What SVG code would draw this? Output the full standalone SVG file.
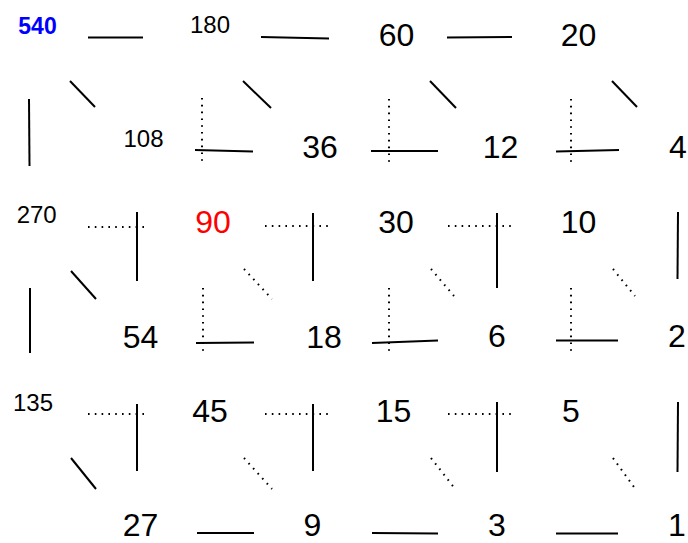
<svg xmlns="http://www.w3.org/2000/svg" width="688" height="543" viewBox="0 0 688 543">
<style>
text{font-family:"Liberation Sans",Arial,sans-serif;fill:#000;text-anchor:middle}
.s{font-size:24px}
.l{font-size:32px}
.c line{stroke:#000;stroke-width:2;fill:none}
.c line.d{stroke-width:2;stroke-dasharray:1.6 5.2}
</style>
<rect width="688" height="543" fill="#fff"/>
<g id="connectors" class="c">
<line x1="88" y1="37.5" x2="143" y2="37.5"/>
<line x1="261" y1="37" x2="329" y2="38.5"/>
<line x1="447" y1="37.5" x2="512" y2="37"/>
<line x1="70" y1="81" x2="95" y2="107"/>
<line x1="243" y1="81" x2="271" y2="108"/>
<line x1="430" y1="81" x2="456" y2="108"/>
<line x1="612" y1="81" x2="637" y2="107"/>
<line x1="29" y1="99" x2="29.5" y2="166"/>
<line class="d" x1="202" y1="98" x2="202" y2="166"/>
<line class="d" x1="389" y1="99" x2="389" y2="165"/>
<line class="d" x1="571" y1="99" x2="571" y2="165"/>
<line x1="195" y1="150" x2="253" y2="151.5"/>
<line x1="371" y1="151" x2="438" y2="151"/>
<line x1="556" y1="151.5" x2="619" y2="150"/>
<line class="d" x1="88" y1="227" x2="145" y2="227"/>
<line class="d" x1="265" y1="226" x2="332" y2="226"/>
<line class="d" x1="448" y1="226" x2="514" y2="226"/>
<line x1="137" y1="212" x2="137" y2="281"/>
<line x1="313" y1="213" x2="313" y2="281"/>
<line x1="497" y1="213" x2="497" y2="288"/>
<line x1="678" y1="212" x2="677.5" y2="279"/>
<line x1="71" y1="271" x2="96" y2="299"/>
<line class="d" x1="244" y1="269" x2="272" y2="299"/>
<line class="d" x1="431" y1="269" x2="454" y2="296"/>
<line class="d" x1="613" y1="269" x2="635" y2="296"/>
<line x1="30" y1="288" x2="30" y2="353"/>
<line class="d" x1="203" y1="288" x2="203" y2="355"/>
<line class="d" x1="389" y1="288" x2="389" y2="354"/>
<line class="d" x1="571" y1="288" x2="571" y2="354"/>
<line x1="196" y1="343" x2="254" y2="342.5"/>
<line x1="372" y1="343" x2="438" y2="340.5"/>
<line x1="556" y1="340.5" x2="618" y2="340.5"/>
<line class="d" x1="88" y1="414" x2="145" y2="414"/>
<line class="d" x1="265" y1="414" x2="332" y2="414"/>
<line class="d" x1="448" y1="414" x2="514" y2="414"/>
<line x1="137" y1="404" x2="137" y2="471"/>
<line x1="313" y1="404" x2="313" y2="471"/>
<line x1="497" y1="402" x2="497" y2="472"/>
<line x1="678" y1="402" x2="677.5" y2="472"/>
<line x1="71" y1="458" x2="96" y2="489"/>
<line class="d" x1="244" y1="458" x2="272" y2="489"/>
<line class="d" x1="431" y1="458" x2="456" y2="490"/>
<line class="d" x1="613" y1="458" x2="634" y2="487"/>
<line x1="197" y1="533" x2="254" y2="533"/>
<line x1="372" y1="533" x2="438" y2="533.5"/>
<line x1="556" y1="533.5" x2="618" y2="533.5"/>
</g>
<g id="n540"><text x="37.5" y="34" style="font-size:23px;font-weight:bold;fill:#0000ff">540</text></g>
<g id="n180"><text class="s" x="210" y="33">180</text></g>
<g id="n60"><text class="l" x="396.5" y="46">60</text></g>
<g id="n20"><text class="l" x="578.5" y="46">20</text></g>
<g id="n108"><text class="s" x="143.5" y="147">108</text></g>
<g id="n36"><text class="l" x="320" y="158">36</text></g>
<g id="n12"><text class="l" x="500.5" y="158">12</text></g>
<g id="n4"><text class="l" x="678" y="158">4</text></g>
<g id="n270"><text class="s" x="36.7" y="223">270</text></g>
<g id="n90"><text class="l" x="213" y="233" style="fill:#ff0000">90</text></g>
<g id="n30"><text class="l" x="396" y="233">30</text></g>
<g id="n10"><text class="l" x="578.5" y="233">10</text></g>
<g id="n54"><text class="l" x="140.5" y="348">54</text></g>
<g id="n18"><text class="l" x="324" y="348">18</text></g>
<g id="n6"><text class="l" x="497" y="347">6</text></g>
<g id="n2"><text class="l" x="677" y="347">2</text></g>
<g id="n135"><text class="s" x="33" y="411">135</text></g>
<g id="n45"><text class="l" x="210" y="422">45</text></g>
<g id="n15"><text class="l" x="393.5" y="422">15</text></g>
<g id="n5"><text class="l" x="571" y="422">5</text></g>
<g id="n27"><text class="l" x="140.5" y="536">27</text></g>
<g id="n9"><text class="l" x="312.5" y="536">9</text></g>
<g id="n3"><text class="l" x="497" y="536">3</text></g>
<g id="n1"><text class="l" x="677" y="536">1</text></g>
</svg>
